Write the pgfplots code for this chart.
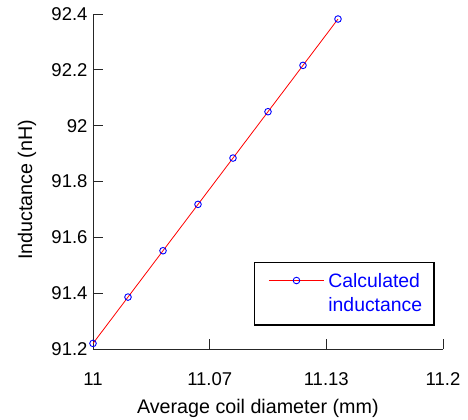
\documentclass[border=0pt]{standalone}
\usepackage{fontspec}
\setmainfont{Liberation Sans}
\usepackage{pgfplots}
\pgfplotsset{compat=1.18}

\begin{document}
\begin{tikzpicture}
\useasboundingbox (-93bp,-71bp) rectangle (375bp,349bp);
\begin{axis}[
  scale only axis,
  width=350bp, height=335bp,
  xmin=11, xmax=11.2, ymin=91.2, ymax=92.4,
  axis lines=left,
  axis line style={-, black!85, line width=0.8bp},
  tick style={black!85, line width=0.8bp},
  tick align=inside,
  major tick length=10bp,
  clip=false,
  scaled y ticks=false,
  xtick={11,11.0667,11.1333,11.2},
  xticklabels={11,11.07,11.13,11.2},
  ytick={91.2,91.4,91.6,91.8,92,92.2,92.4},
  yticklabels={91.2,91.4,91.6,91.8,92,92.2,92.4},
  /pgf/number format/assume math mode=true,
  tick label style={font=\fontsize{18.5bp}{22bp}\selectfont},
  xticklabel style={yshift=-20bp},
  yticklabel style={xshift=-2bp},
  label style={font=\fontsize{19.7bp}{23bp}\selectfont},
  xlabel={Average coil diameter (mm)},
  ylabel={Inductance (nH)},
  xlabel style={at={(axis description cs:0.471,-0.193)}, anchor=base},
  ylabel style={at={(axis description cs:-0.174,0.475)}, anchor=base},
  legend style={at={(0.977,0.070)}, anchor=south east, draw=black,
    line width=1.5bp, font=\fontsize{19.4bp}{24bp}\selectfont, text=blue,
    inner xsep=10bp, inner ysep=9.5bp, column sep=2bp,
    cells={anchor=west, align=left}},
  legend image code/.code={\path (-4bp,13bp);
    \draw[mark repeat=2,mark phase=2,#1]
    plot coordinates {(0bp,13bp) (27.5bp,13bp) (55bp,13bp)};},
]
\addplot[red, line width=0.8bp, mark=o, mark size=3.3bp,
  mark options={blue, line width=0.9bp}] coordinates {
  (11.00,91.220) (11.02,91.386) (11.04,91.552) (11.06,91.718)
  (11.08,91.884) (11.10,92.050) (11.12,92.216) (11.14,92.382)
};
\addlegendentry{Calculated\\inductance}
\end{axis}
\end{tikzpicture}
\end{document}
